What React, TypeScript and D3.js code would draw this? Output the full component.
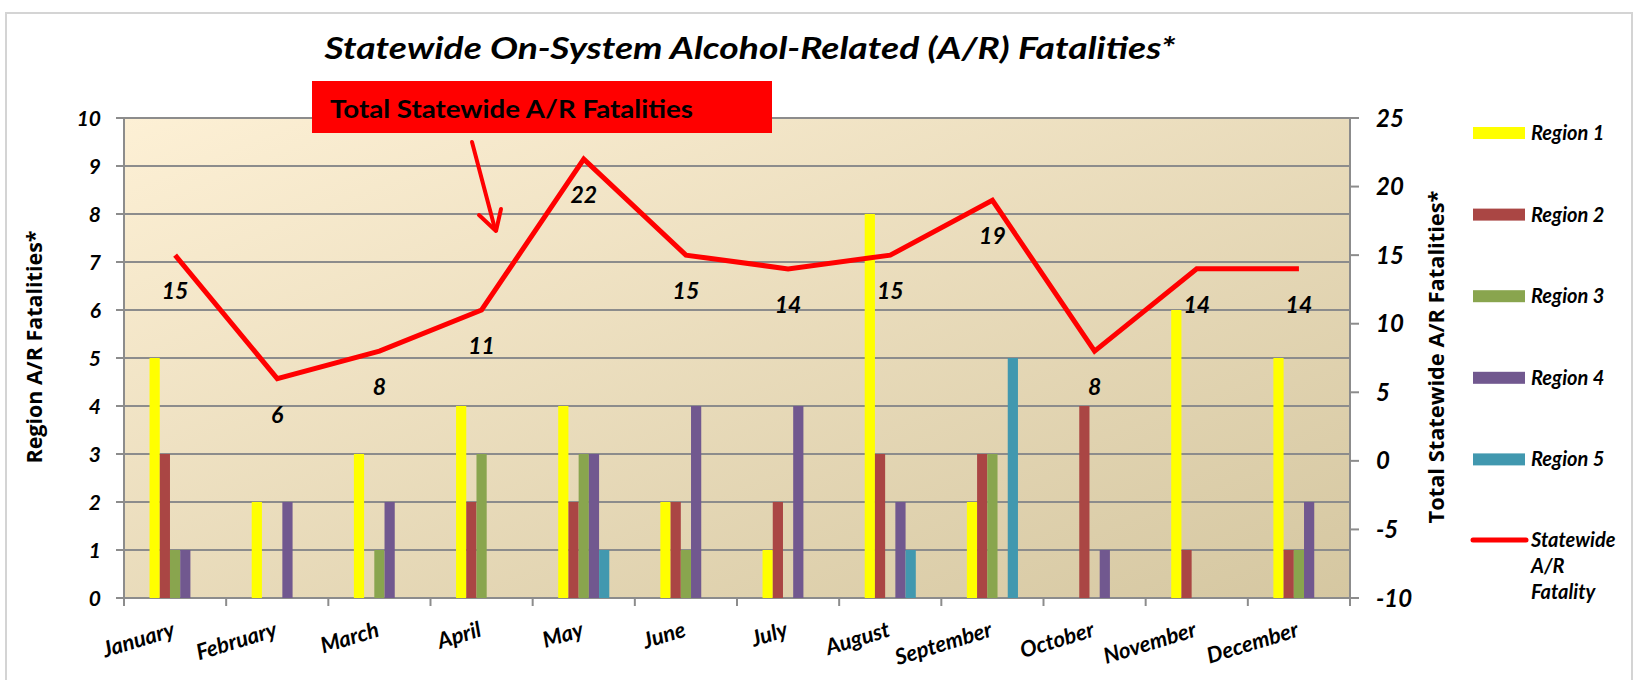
import React from "react";
import * as d3 from "d3";

const months = ["January", "February", "March", "April", "May", "June", "July", "August", "September", "October", "November", "December"];
const region1 = [5, 2, 3, 4, 4, 2, 1, 8, 2, 0, 6, 5];
const region2 = [3, 0, 0, 2, 2, 2, 2, 3, 3, 4, 1, 1];
const region3 = [1, 0, 1, 3, 3, 1, 0, 0, 3, 0, 0, 1];
const region4 = [1, 2, 2, 0, 3, 4, 4, 2, 0, 1, 0, 2];
const region5 = [0, 0, 0, 0, 1, 0, 0, 1, 5, 0, 0, 0];
const statewide = [15, 6, 8, 11, 22, 15, 14, 15, 19, 8, 14, 14];
const regionNames = ["Region 1", "Region 2", "Region 3", "Region 4", "Region 5"];
const regionColors = ["#ffff00", "#aa4644", "#89a54e", "#71588f", "#4198af"];
const leftTicks = [0, 1, 2, 3, 4, 5, 6, 7, 8, 9, 10];
const rightTicks = [-10, -5, 0, 5, 10, 15, 20, 25];

const FONT = "Lato, 'Open Sans', sans-serif";

export default function App() {
  const W = 1640, H = 680;
  const L = 124, R = 1350, T = 118, B = 598;
  const regions = [region1, region2, region3, region4, region5];

  const x = d3.scaleBand<string>().domain(months).range([L, R]).paddingInner(0).paddingOuter(0);
  const bw = x.bandwidth();
  const xInner = d3.scaleBand<number>().domain([0, 1, 2, 3, 4]).range([bw * 0.25, bw * 0.75]).padding(0);
  const yL = d3.scaleLinear().domain([0, 10]).range([B, T]);
  const yR = d3.scaleLinear().domain([-10, 25]).range([B, T]);

  const cx = (m: string) => (x(m) as number) + bw / 2;
  const line = d3.line<number>()
    .x((_, i) => cx(months[i]))
    .y((d) => yR(d));

  const grid = "#8c8c8c";

  return (
    <div style={{ position: "absolute", left: 0, top: 0 }}>
      <svg width={W} height={H} style={{ display: "block" }} fontFamily={FONT}>
        <defs>
          <linearGradient id="bg" x1="0" y1="0" x2="1" y2="1">
            <stop offset="0%" stopColor="#fdf0d5" />
            <stop offset="100%" stopColor="#d5c7a1" />
          </linearGradient>
        </defs>
        <rect x={0} y={0} width={W} height={H} fill="#ffffff" />
        <rect x={6} y={13} width={1626} height={680} fill="#ffffff" stroke="#d4d4d4" strokeWidth={2} />

        {/* Title */}
        <text x={750} y={59} textAnchor="middle" fontSize={31} fontWeight="bold" fontStyle="italic" textLength={851} lengthAdjust="spacingAndGlyphs" fill="#000">
          Statewide On-System Alcohol-Related (A/R) Fatalities*
        </text>

        {/* Plot background */}
        <rect x={L} y={T} width={R - L} height={B - T} fill="url(#bg)" />

        {/* Gridlines */}
        {leftTicks.map((t) => (
          <line key={"g" + t} x1={L} x2={R} y1={yL(t)} y2={yL(t)} stroke={grid} strokeWidth={2} />
        ))}
        {/* Axes lines */}
        <line x1={L} x2={L} y1={T} y2={B + 8} stroke={grid} strokeWidth={2} />
        <line x1={R} x2={R} y1={T} y2={B + 8} stroke={grid} strokeWidth={2} />
        {leftTicks.map((t) => (
          <line key={"lt" + t} x1={L - 8} x2={L} y1={yL(t)} y2={yL(t)} stroke={grid} strokeWidth={2} />
        ))}
        {rightTicks.map((t) => (
          <line key={"rt" + t} x1={R} x2={R + 9} y1={yR(t)} y2={yR(t)} stroke={grid} strokeWidth={2} />
        ))}
        {months.map((m) => (
          <line key={"bt" + m} x1={x(m) as number} x2={x(m) as number} y1={B} y2={B + 8} stroke={grid} strokeWidth={2} />
        ))}

        {/* Bars */}
        {months.map((m, i) => (
          <g key={"bars" + m}>
            {regions.map((arr, r) =>
              arr[i] > 0 ? (
                <rect
                  key={r}
                  x={(x(m) as number) + (xInner(r) as number)}
                  y={yL(arr[i])}
                  width={xInner.bandwidth()}
                  height={B - yL(arr[i])}
                  fill={regionColors[r]}
                />
              ) : null
            )}
          </g>
        ))}

        {/* Statewide line */}
        <path d={line(statewide) as string} fill="none" stroke="#ff0000" strokeWidth={5} strokeLinejoin="miter" />
        {statewide.map((v, i) => (
          <text key={"dl" + i} x={cx(months[i])} y={yR(v) + 44} textAnchor="middle" fontSize={23} fontWeight="bold" fontStyle="italic" fill="#000">
            {v}
          </text>
        ))}

        {/* Left tick labels */}
        {leftTicks.map((t) => (
          <text key={"ll" + t} x={101} y={yL(t)} dy="0.36em" textAnchor="end" fontSize={21} fontWeight="bold" fontStyle="italic" fill="#000">
            {t}
          </text>
        ))}
        {/* Right tick labels */}
        {rightTicks.map((t) => (
          <text key={"rl" + t} x={1376} y={yR(t)} dy="0.36em" textAnchor="start" fontSize={24} fontWeight="bold" fontStyle="italic" fill="#000">
            {t}
          </text>
        ))}

        {/* X labels */}
        {months.map((m) => (
          <text key={"xl" + m} transform={`translate(${cx(m) + 1},${636}) rotate(-17)`} textAnchor="end" fontSize={22} fontWeight="bold" fontStyle="italic" fill="#000">
            {m}
          </text>
        ))}

        {/* Axis titles */}
        <text transform={`translate(42,347) rotate(-90)`} textAnchor="middle" fontSize={21} fontWeight="bold" fontFamily="'Open Sans', sans-serif" textLength={233} lengthAdjust="spacingAndGlyphs" fill="#000">
          Region A/R Fatalities*
        </text>
        <text transform={`translate(1444,357) rotate(-90)`} textAnchor="middle" fontSize={21} fontWeight="bold" fontFamily="'Open Sans', sans-serif" textLength={333} lengthAdjust="spacingAndGlyphs" fill="#000">
          Total Statewide A/R Fatalities*
        </text>

        {/* Legend */}
        {regionNames.map((n, r) => (
          <g key={"lg" + n}>
            <rect x={1473} y={127 + r * 81.6} width={52} height={12} fill={regionColors[r]} />
            <text x={1531} y={140 + r * 81.6} fontSize={20} fontWeight="bold" fontStyle="italic" fill="#000">
              {n}
            </text>
          </g>
        ))}
        <line x1={1473} x2={1526} y1={540} y2={540} stroke="#ff0000" strokeWidth={5} strokeLinecap="round" />
        <text fontSize={20} fontWeight="bold" fontStyle="italic" fill="#000">
          <tspan x={1531} y={547}>Statewide</tspan>
          <tspan x={1531} y={573}>A/R</tspan>
          <tspan x={1531} y={599}>Fatality</tspan>
        </text>

        {/* Annotation */}
        <rect x={312} y={81} width={460} height={52} fill="#ff0000" />
        <text x={330} y={118} fontSize={25} fontWeight="bold" textLength={363} lengthAdjust="spacingAndGlyphs" fill="#000">
          Total Statewide A/R Fatalities
        </text>
        <line x1={472} y1={142} x2={495} y2={229} stroke="#ff0000" strokeWidth={4} strokeLinecap="round" />
        <polyline points="479,215 496,231 501,209" fill="none" stroke="#ff0000" strokeWidth={4} strokeLinecap="round" strokeLinejoin="round" />
      </svg>
    </div>
  );
}
